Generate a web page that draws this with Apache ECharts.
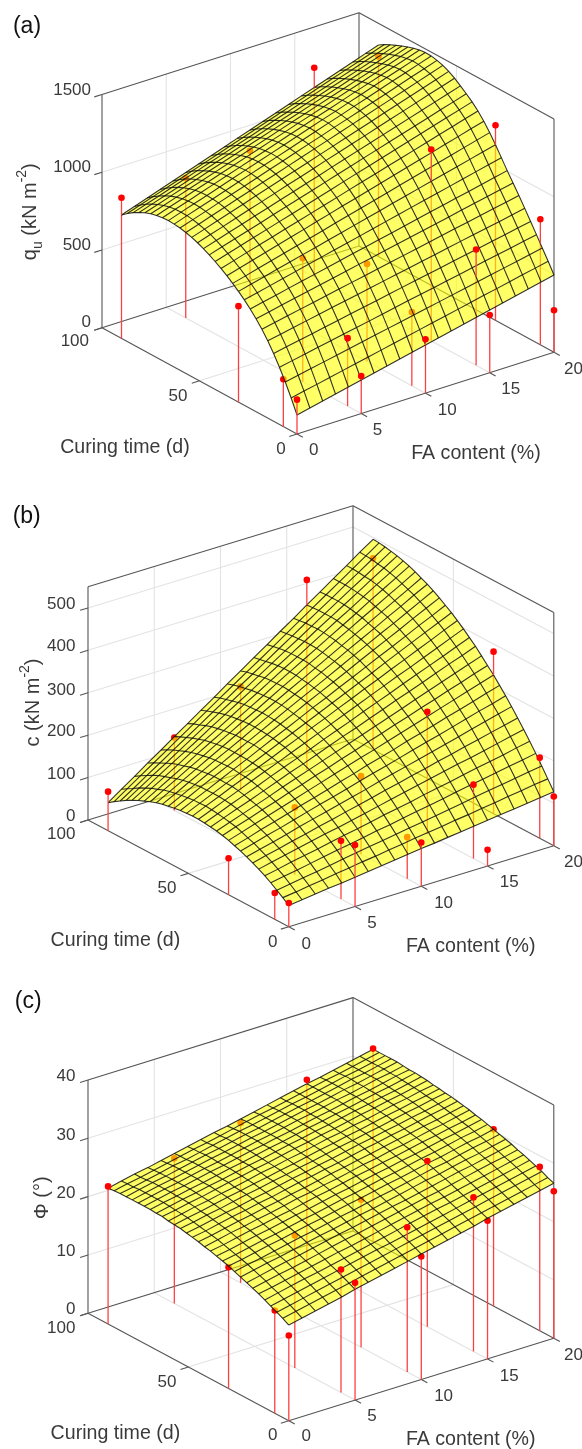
<!DOCTYPE html>
<html><head><meta charset="utf-8"><style>html,body{margin:0;padding:0;background:#fff;overflow:hidden}#c{width:582px;height:1449px}</style>
<script src="https://cdn.jsdelivr.net/npm/echarts@6/dist/echarts.min.js"></script></head><body><div id="c"></div>
<script>
const faMeasured=[0,5,10,15,20];
const tMeasured=[0,7,30,90];
const quPoints=[[221,304,617,904],[242,437,793,898],[347,474,626,943],[371,744,1230,1346],[270,808,1254,1286]];
const cPoints=[[56,62,86,92],[145,137,158,172],[103,98,184,244],[38,174,288,448],[116,190,382,451]];
const phiPoints=[[14.6,17.6,20.8,23.6],[20.1,21.1,22.7,24.9],[21.1,24.8,25.3,27.4],[23.7,26.4,28.4,31.3],[25.2,28.1,30.3,33.1]];
const faGrid=[0,1,2,3,4,5,6,7,8,9,10,11,12,13,14,15,16,17,18,19,20];
const tGrid=[0,3,6,9,12,15,18,21,24,27,30,33,36,39,42,45,48,51,54,57,60,63,66,69,72,75,78,81,84,87,90];
// surface heights: one row per tGrid value, one column per faGrid value
const quSurface=[
[122,141,160,178,197,216,235,253,272,291,310,328,347,366,385,403,422,441,460,478,497],
[211,229,246,264,282,300,317,335,353,370,388,406,423,441,459,477,494,512,530,547,565],
[293,310,327,344,360,377,394,411,428,445,462,478,495,512,529,546,563,579,596,613,630],
[368,384,401,417,433,450,466,482,499,515,532,548,564,581,597,613,630,646,662,679,695],
[436,452,468,484,501,517,533,549,565,581,598,614,630,646,662,678,694,711,727,743,759],
[497,513,530,546,562,579,595,611,627,644,660,676,693,709,725,742,758,774,790,807,823],
[551,568,584,601,618,635,651,668,685,701,718,735,751,768,785,802,818,835,852,868,885],
[598,615,633,650,667,685,702,719,737,754,772,789,806,824,841,858,876,893,910,928,945],
[640,658,676,695,713,731,749,767,786,804,822,840,858,877,895,913,931,949,968,986,1004],
[678,697,717,736,756,775,795,814,834,853,873,892,911,931,950,970,989,1009,1028,1048,1067],
[712,733,754,775,796,817,837,858,879,900,921,942,963,984,1005,1026,1046,1067,1088,1109,1130],
[743,765,787,810,832,854,876,898,921,943,965,987,1009,1032,1054,1076,1098,1120,1143,1165,1187],
[772,795,819,842,866,889,912,936,959,983,1006,1029,1053,1076,1100,1123,1146,1170,1193,1217,1240],
[798,822,847,871,895,920,944,968,993,1017,1042,1066,1090,1115,1139,1163,1188,1212,1236,1261,1285],
[822,847,872,897,922,947,972,997,1022,1047,1073,1098,1123,1148,1173,1198,1223,1248,1273,1298,1323],
[844,870,895,921,946,972,997,1023,1048,1074,1100,1125,1151,1176,1202,1227,1253,1278,1304,1329,1355],
[864,890,916,942,968,994,1020,1046,1072,1098,1125,1151,1177,1203,1229,1255,1281,1307,1333,1359,1385],
[881,908,934,961,988,1014,1041,1068,1094,1121,1148,1174,1201,1227,1254,1281,1307,1334,1361,1387,1414],
[895,922,949,976,1003,1031,1058,1085,1112,1139,1166,1193,1220,1247,1274,1302,1329,1356,1383,1410,1437],
[906,933,961,988,1016,1043,1071,1098,1126,1153,1181,1208,1235,1263,1290,1318,1345,1373,1400,1428,1455],
[914,942,969,997,1025,1052,1080,1108,1135,1163,1191,1218,1246,1273,1301,1329,1356,1384,1412,1439,1467],
[919,947,975,1002,1030,1058,1086,1114,1141,1169,1197,1225,1253,1280,1308,1336,1364,1392,1419,1447,1475],
[921,949,977,1004,1032,1060,1088,1116,1143,1171,1199,1227,1255,1282,1310,1338,1366,1394,1421,1449,1477],
[919,947,974,1002,1030,1057,1085,1113,1140,1168,1196,1223,1251,1278,1306,1334,1361,1389,1417,1444,1472],
[913,941,968,996,1023,1051,1078,1106,1133,1161,1188,1216,1243,1271,1298,1326,1353,1381,1408,1436,1463],
[903,930,958,985,1012,1040,1067,1094,1122,1149,1177,1204,1231,1259,1286,1313,1341,1368,1395,1423,1450],
[889,916,944,971,998,1026,1053,1080,1108,1135,1163,1190,1217,1245,1272,1299,1327,1354,1381,1409,1436],
[871,898,926,953,981,1008,1036,1063,1091,1118,1146,1173,1200,1228,1255,1283,1310,1338,1365,1393,1420],
[849,877,904,932,960,988,1015,1043,1071,1098,1126,1154,1181,1209,1237,1265,1292,1320,1348,1375,1403],
[823,851,879,907,935,963,991,1019,1047,1075,1104,1132,1160,1188,1216,1244,1272,1300,1328,1356,1384],
[793,821,850,878,907,935,963,992,1020,1049,1077,1105,1134,1162,1191,1219,1247,1276,1304,1333,1361]];
const cSurface=[
[50,54,58,62,65,69,73,77,81,85,89,92,96,100,104,108,112,115,119,123,127],
[61,65,70,74,79,83,88,92,97,101,106,110,114,119,123,128,132,137,141,146,150],
[71,76,81,86,91,97,102,107,112,117,122,127,132,137,142,148,153,158,163,168,173],
[81,87,92,98,104,110,115,121,127,132,138,144,149,155,161,167,172,178,184,189,195],
[90,96,103,109,115,122,128,134,140,147,153,159,166,172,178,185,191,197,203,210,216],
[98,105,112,119,126,133,139,146,153,160,167,174,181,188,195,202,208,215,222,229,236],
[105,113,120,128,135,143,150,158,165,173,181,188,196,203,211,218,226,233,241,248,256],
[112,120,128,136,145,153,161,169,177,185,194,202,210,218,226,234,242,251,259,267,275],
[118,127,136,144,153,162,171,179,188,197,206,214,223,232,241,249,258,267,276,284,293],
[123,132,142,151,160,170,179,188,198,207,217,226,235,245,254,263,273,282,291,301,310],
[128,138,148,158,168,178,188,198,208,218,228,237,247,257,267,277,287,297,307,317,327],
[132,143,153,164,174,185,195,206,216,227,237,248,258,269,279,290,300,311,321,332,342],
[135,146,157,168,179,191,202,213,224,235,246,257,268,279,290,302,313,324,335,346,357],
[137,149,161,172,184,196,208,219,231,243,255,266,278,290,302,313,325,337,349,360,372],
[139,151,164,176,188,201,213,225,237,250,262,274,287,299,311,324,336,348,360,373,385],
[140,153,166,179,192,205,217,230,243,256,269,282,295,308,321,334,346,359,372,385,398],
[140,154,167,181,194,208,221,235,248,262,275,289,302,316,329,343,356,370,383,397,410],
[139,153,167,181,195,210,224,238,252,266,280,294,308,322,336,351,365,379,393,407,421],
[138,153,167,182,197,211,226,241,255,270,285,299,314,328,343,358,372,387,402,416,431],
[136,151,167,182,197,212,228,243,258,273,289,304,319,334,350,365,380,395,411,426,441],
[133,149,165,181,196,212,228,244,260,276,292,307,323,339,355,371,387,402,418,434,450],
[130,146,163,179,196,212,228,245,261,278,294,310,327,343,360,376,392,409,425,442,458],
[126,143,160,177,194,211,228,245,262,279,296,312,329,346,363,380,397,414,431,448,465],
[121,139,156,174,191,209,226,244,261,279,297,314,332,349,367,384,402,419,437,454,472],
[115,133,151,169,188,206,224,242,260,278,297,315,333,351,369,387,405,424,442,460,478],
[109,128,146,165,184,203,221,240,259,277,296,315,333,352,371,390,408,427,446,464,483],
[102,121,141,160,179,198,218,237,256,275,295,314,333,352,372,391,410,429,449,468,487],
[94,114,134,153,173,193,213,233,252,272,292,312,332,351,371,391,411,431,450,470,490],
[85,105,126,146,167,187,207,228,248,269,289,309,330,350,371,391,411,432,452,473,493],
[76,97,118,139,160,181,202,223,244,265,286,306,327,348,369,390,411,432,453,474,495],
[66,88,109,131,152,174,195,217,238,260,281,303,324,346,367,389,410,432,453,475,496]];
const phiSurface=[
[16.4,16.9,17.4,17.9,18.4,19.0,19.5,20.0,20.5,21.0,21.5,22.0,22.5,23.0,23.5,24.1,24.6,25.1,25.6,26.1,26.6],
[17.0,17.5,18.0,18.5,19.0,19.5,20.0,20.5,21.0,21.5,22.0,22.5,23.0,23.5,24.0,24.5,25.0,25.5,26.0,26.5,27.0],
[17.5,18.0,18.5,19.0,19.5,20.0,20.5,21.0,21.5,22.0,22.5,23.0,23.5,24.0,24.5,25.0,25.5,26.0,26.5,27.0,27.5],
[18.0,18.5,19.0,19.5,20.0,20.5,21.0,21.5,22.0,22.4,22.9,23.4,23.9,24.4,24.9,25.4,25.9,26.4,26.9,27.4,27.9],
[18.5,19.0,19.5,20.0,20.4,20.9,21.4,21.9,22.4,22.9,23.4,23.9,24.4,24.9,25.3,25.8,26.3,26.8,27.3,27.8,28.3],
[19.0,19.4,19.9,20.4,20.9,21.4,21.9,22.3,22.8,23.3,23.8,24.3,24.8,25.3,25.7,26.2,26.7,27.2,27.7,28.2,28.7],
[19.4,19.9,20.4,20.8,21.3,21.8,22.3,22.8,23.2,23.7,24.2,24.7,25.2,25.7,26.1,26.6,27.1,27.6,28.1,28.5,29.0],
[19.8,20.3,20.8,21.3,21.7,22.2,22.7,23.2,23.6,24.1,24.6,25.1,25.5,26.0,26.5,27.0,27.5,27.9,28.4,28.9,29.4],
[20.2,20.7,21.2,21.6,22.1,22.6,23.1,23.5,24.0,24.5,24.9,25.4,25.9,26.4,26.9,27.3,27.8,28.3,28.7,29.2,29.7],
[20.6,21.1,21.5,22.0,22.5,23.0,23.4,23.9,24.4,24.8,25.3,25.8,26.2,26.7,27.2,27.7,28.1,28.6,29.1,29.5,30.0],
[21.0,21.4,21.9,22.4,22.8,23.3,23.8,24.2,24.7,25.2,25.6,26.1,26.6,27.0,27.5,28.0,28.4,28.9,29.4,29.8,30.3],
[21.3,21.7,22.2,22.7,23.1,23.6,24.1,24.5,25.0,25.5,25.9,26.4,26.9,27.3,27.8,28.3,28.7,29.2,29.7,30.1,30.6],
[21.6,22.0,22.5,23.0,23.4,23.9,24.4,24.8,25.3,25.8,26.2,26.7,27.2,27.6,28.1,28.5,29.0,29.5,29.9,30.4,30.9],
[21.9,22.3,22.8,23.3,23.7,24.2,24.6,25.1,25.6,26.0,26.5,27.0,27.4,27.9,28.3,28.8,29.3,29.7,30.2,30.6,31.1],
[22.1,22.6,23.1,23.5,24.0,24.4,24.9,25.4,25.8,26.3,26.7,27.2,27.7,28.1,28.6,29.0,29.5,30.0,30.4,30.9,31.4],
[22.4,22.8,23.3,23.8,24.2,24.7,25.1,25.6,26.0,26.5,27.0,27.4,27.9,28.3,28.8,29.3,29.7,30.2,30.6,31.1,31.6],
[22.6,23.0,23.5,24.0,24.4,24.9,25.3,25.8,26.3,26.7,27.2,27.6,28.1,28.6,29.0,29.5,29.9,30.4,30.9,31.3,31.8],
[22.8,23.2,23.7,24.2,24.6,25.1,25.5,26.0,26.5,26.9,27.4,27.8,28.3,28.8,29.2,29.7,30.1,30.6,31.0,31.5,32.0],
[23.0,23.4,23.9,24.3,24.8,25.3,25.7,26.2,26.6,27.1,27.5,28.0,28.5,28.9,29.4,29.8,30.3,30.8,31.2,31.7,32.1],
[23.1,23.6,24.0,24.5,25.0,25.4,25.9,26.3,26.8,27.2,27.7,28.2,28.6,29.1,29.5,30.0,30.5,30.9,31.4,31.8,32.3],
[23.2,23.7,24.2,24.6,25.1,25.5,26.0,26.5,26.9,27.4,27.8,28.3,28.8,29.2,29.7,30.1,30.6,31.1,31.5,32.0,32.4],
[23.4,23.8,24.3,24.7,25.2,25.7,26.1,26.6,27.0,27.5,28.0,28.4,28.9,29.3,29.8,30.3,30.7,31.2,31.6,32.1,32.6],
[23.4,23.9,24.4,24.8,25.3,25.7,26.2,26.7,27.1,27.6,28.1,28.5,29.0,29.4,29.9,30.4,30.8,31.3,31.7,32.2,32.7],
[23.5,24.0,24.4,24.9,25.3,25.8,26.3,26.7,27.2,27.7,28.1,28.6,29.1,29.5,30.0,30.4,30.9,31.4,31.8,32.3,32.8],
[23.5,24.0,24.5,24.9,25.4,25.9,26.3,26.8,27.3,27.7,28.2,28.6,29.1,29.6,30.0,30.5,31.0,31.4,31.9,32.4,32.8],
[23.5,24.0,24.5,24.9,25.4,25.9,26.3,26.8,27.3,27.8,28.2,28.7,29.2,29.6,30.1,30.6,31.0,31.5,32.0,32.4,32.9],
[23.5,24.0,24.5,24.9,25.4,25.9,26.4,26.8,27.3,27.8,28.2,28.7,29.2,29.7,30.1,30.6,31.1,31.5,32.0,32.5,33.0],
[23.5,24.0,24.5,24.9,25.4,25.9,26.4,26.8,27.3,27.8,28.2,28.7,29.2,29.7,30.1,30.6,31.1,31.6,32.0,32.5,33.0],
[23.5,23.9,24.4,24.9,25.4,25.8,26.3,26.8,27.3,27.8,28.2,28.7,29.2,29.7,30.1,30.6,31.1,31.6,32.0,32.5,33.0],
[23.4,23.9,24.3,24.8,25.3,25.8,26.3,26.7,27.2,27.7,28.2,28.7,29.1,29.6,30.1,30.6,31.1,31.5,32.0,32.5,33.0],
[23.3,23.8,24.3,24.7,25.2,25.7,26.2,26.7,27.2,27.6,28.1,28.6,29.1,29.6,30.1,30.6,31.0,31.5,32.0,32.5,33.0]];
const faTicks=[0,5,10,15,20],tTicks=[0,50,100];
const panels=[
{tag:'(a)',zMax:1500,zTicks:[0,500,1000,1500],surface:quSurface,points:quPoints,
 o:[297,434],fx:[257,-81.7],ty:[-195,-106.3],h:233.3,
 tagPos:[27,26.7],zRight:91,zLab:[322.7,245.7,167,90],tLab:[[281,449,'center'],[178,396,'center'],[89,341.7,'right']],
 faLab:[[313.7,450.7],[377.5,430.7],[447.3,410],[510.8,389.3],[573.5,369]],
 curing:[125,447.7],fa:[476,454],zName:[30,211.7],zText:'{a|q}{s|u}{a| (kN m}{p|-2}{a|)}'},
{tag:'(b)',zMax:550,zTicks:[0,100,200,300,400,500],surface:cSurface,points:cPoints,
 o:[288.8,926.7],fx:[265,-81],ty:[-200.8,-106.7],h:233.3,
 tagPos:[26.7,516.7],zRight:75.4,zLab:[816,774,731.7,690,646.7,604],tLab:[[272.8,942.3,'center'],[167,888.3,'center'],[75.4,834.3,'right']],
 faLab:[[306.2,944],[372,923.3],[443.6,903.3],[509.3,882.7],[573.5,862.3]],
 curing:[115.4,940.7],fa:[470.7,946.7],zName:[33.4,702.5],zText:'{a|c (kN m}{p|-2}{a|)}'},
{tag:'(c)',zMax:40,zTicks:[0,10,20,30,40],surface:phiSurface,points:phiPoints,
 o:[288.8,1420.7],fx:[265,-82.4],ty:[-200.8,-107.4],h:233.3,
 tagPos:[28.2,1001.7],zRight:75.4,zLab:[1309.3,1251,1193.3,1135,1076.7],tLab:[[272.8,1435,'center'],[167,1382.3,'center'],[75.4,1328.3,'right']],
 faLab:[[306.2,1436.7],[372,1416.7],[443.6,1396.7],[509.3,1376],[573.5,1355.7]],
 curing:[115.4,1434],fa:[470.7,1440],zName:[42.7,1197.8],zText:'{a|Φ (°)}'}
];
const proj=(p,fa,t,z)=>[p.o[0]+p.fx[0]*fa/20+p.ty[0]*t/100,p.o[1]+p.fx[1]*fa/20+p.ty[1]*t/100-p.h*z/p.zMax];
function surfAt(p,fa,t){const r=t/3,r0=Math.min(29,Math.floor(r)),w=r-r0;const a=p.surface[r0][fa],b=p.surface[r0+1][fa];return a+(b-a)*w}
const GRID='#e3e3e3',BOX='#555555',INK='#3a3a3a',FONT='Liberation Sans, Arial, sans-serif';
const lines=[],under=[],cells=[],mesh=[],over=[],texts=[];
panels.forEach((p,pi)=>{
 const seg=(a,b,c)=>lines.push({pi,a,b,c});
 faTicks.slice(1,-1).forEach(f=>{seg([f,0,0],[f,100,0],GRID);seg([f,100,0],[f,100,p.zMax],GRID)});
 tTicks.slice(1,-1).forEach(t=>{seg([0,t,0],[20,t,0],GRID);seg([20,t,0],[20,t,p.zMax],GRID)});
 p.zTicks.slice(1).forEach(z=>{if(z<p.zMax){seg([0,100,z],[20,100,z],GRID);seg([20,100,z],[20,0,z],GRID)}});
 [[[0,0,0],[20,0,0]],[[0,0,0],[0,100,0]],[[0,100,0],[20,100,0]],[[20,0,0],[20,100,0]],[[0,100,0],[0,100,p.zMax]],[[20,0,0],[20,0,p.zMax]],[[20,100,0],[20,100,p.zMax]],[[0,100,p.zMax],[20,100,p.zMax]],[[20,100,p.zMax],[20,0,p.zMax]]].forEach(e=>seg(e[0],e[1],BOX));
 faTicks.forEach(f=>seg([f,0,0],[f,-3,0],BOX));
 tTicks.forEach(t=>seg([0,t,0],[-0.6,t,0],BOX));
 p.zTicks.forEach(z=>seg([0,100,z],[-0.6,100,z],BOX));
 faMeasured.forEach((f,fi)=>tMeasured.forEach((t,ti)=>{
  const z=p.points[fi][ti],S=surfAt(p,f,t);
  under.push({pi,f,t,z0:0,z1:Math.min(z,S),m:z<=S?z:null});
  if(z>S)over.push({pi,f,t,z0:S,z1:z,m:z});
 }));
 for(let r=tGrid.length-2;r>=0;r--)for(let c=faGrid.length-2;c>=0;c--)cells.push({pi,r,c});
 tGrid.forEach((t,r)=>mesh.push({pi,row:r}));
 faGrid.forEach((f,c)=>mesh.push({pi,col:c}));
 const T=(x,y,text,align,size,fill)=>texts.push({x,y,text,align,size,fill});
 T(p.tagPos[0],p.tagPos[1],p.tag,'center',23,'#111');
 p.zTicks.forEach((z,i)=>T(p.zRight,p.zLab[i],String(z),'right',17,INK));
 tTicks.forEach((t,i)=>T(p.tLab[i][0],p.tLab[i][1],String(t),p.tLab[i][2],17,INK));
 faTicks.forEach((f,i)=>T(p.faLab[i][0],p.faLab[i][1],String(f),'center',17,INK));
 T(p.curing[0],p.curing[1],'Curing time (d)','center',19.6,INK);
 T(p.fa[0],p.fa[1],'FA content (%)','center',19.6,INK);
 texts.push({x:p.zName[0],y:p.zName[1],rich:p.zText});
});
const rec=a=>a.map((d,i)=>[0,0,i]);
const layer=(arr,fn,z)=>({type:'custom',coordinateSystem:'cartesian2d',silent:true,animation:false,clip:false,z,progressive:0,data:rec(arr),renderItem:(ps,api)=>fn(arr[api.value(2)],api)});
const stem=(d,api)=>{const p=panels[d.pi];const a=api.coord(proj(p,d.f,d.t,d.z0)),b=api.coord(proj(p,d.f,d.t,d.z1));const kids=[{type:'line',shape:{x1:a[0],y1:a[1],x2:b[0],y2:b[1]},style:{stroke:'#ff4040',lineWidth:1.3}}];
 if(d.m!==null){const m=api.coord(proj(p,d.f,d.t,d.m));kids.push({type:'circle',shape:{cx:m[0],cy:m[1],r:3.3},style:{fill:'#ff0000'}})}
 return {type:'group',children:kids}};
const option={animation:false,backgroundColor:'#fff',
 grid:{left:0,right:0,top:0,bottom:0},
 xAxis:{type:'value',min:0,max:582,show:false},
 yAxis:{type:'value',min:0,max:1449,inverse:true,show:false},
 series:[
 layer(lines,(d,api)=>{const p=panels[d.pi];const a=api.coord(proj(p,...d.a)),b=api.coord(proj(p,...d.b));return {type:'line',shape:{x1:a[0],y1:a[1],x2:b[0],y2:b[1]},style:{stroke:d.c,lineWidth:1.1}}},1),
 layer(under,stem,2),
 layer(cells,(d,api)=>{const p=panels[d.pi],S=p.surface,r=d.r,c=d.c,f=faGrid,t=tGrid;
  const pts=[[c,r],[c+1,r],[c+1,r+1],[c,r+1]].map(q=>api.coord(proj(p,f[q[0]],t[q[1]],S[q[1]][q[0]])));
  return {type:'polygon',shape:{points:pts},style:{fill:'rgba(255,255,0,0.6)',stroke:null}}},3),
 layer(mesh,(d,api)=>{const p=panels[d.pi],S=p.surface;
  const pts=d.row!==undefined?faGrid.map((f,c)=>api.coord(proj(p,f,tGrid[d.row],S[d.row][c]))):tGrid.map((t,r)=>api.coord(proj(p,faGrid[d.col],t,S[r][d.col])));
  return {type:'polyline',shape:{points:pts},style:{stroke:'rgba(15,15,15,0.85)',lineWidth:1.1,fill:null}}},4),
 layer(over,stem,5),
 layer(texts,(d,api)=>{const q=api.coord([d.x,d.y]);
  if(d.rich)return {type:'text',x:q[0],y:q[1],rotation:Math.PI/2,style:{text:d.rich,align:'center',verticalAlign:'middle',rich:{a:{fontSize:20,fontFamily:FONT,fill:INK,lineHeight:30,verticalAlign:'middle'},s:{fontSize:14,fontFamily:FONT,fill:INK,lineHeight:30,verticalAlign:'bottom'},p:{fontSize:14,fontFamily:FONT,fill:INK,lineHeight:30,verticalAlign:'top'}}}};
  return {type:'text',x:q[0],y:q[1],style:{text:d.text,fill:d.fill,fontSize:d.size,fontFamily:FONT,align:d.align,verticalAlign:'middle'}}},6)
 ]};
const chart=echarts.init(document.getElementById('c'),null,{renderer:'canvas',width:582,height:1449});
chart.setOption(option);
</script></body></html>
